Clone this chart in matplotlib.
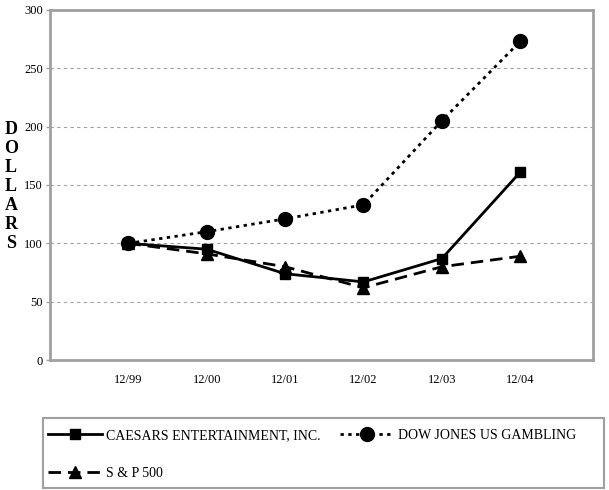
import matplotlib
matplotlib.use('Agg')
import matplotlib.pyplot as plt
from matplotlib.lines import Line2D
from matplotlib.patches import Rectangle

plt.rcParams['font.family'] = ['Liberation Serif', 'DejaVu Serif']

years = ['12/99', '12/00', '12/01', '12/02', '12/03', '12/04']
caesars = [100, 95, 74, 67, 87, 161]
dj_gambling = [100, 110, 121, 133, 205, 273]
sp500 = [100, 91, 80, 62, 80, 89]
y_ticks = [0, 50, 100, 150, 200, 250, 300]

grey = '#a0a0a0'
dotted = (0, (1.2, 1.6))
dashed = (0, (4.5, 2.5))

fig = plt.figure(figsize=(6.09, 4.90), dpi=100)
ax = fig.add_axes([0.082, 0.265, 0.892, 0.715])

x = list(range(len(years)))
ax.plot(x, dj_gambling, color='black', lw=2, ls=dotted, marker='o', ms=10, zorder=3)
ax.plot(x, sp500, color='black', lw=2, ls=dashed, marker='^', ms=8, zorder=3)
ax.plot(x, caesars, color='black', lw=2, ls='-', marker='s', ms=7, zorder=4)

ax.set_xlim(-1.0, 5.93)
ax.set_ylim(0, 300)
ax.set_yticks(y_ticks)
ax.set_yticklabels([str(v) for v in y_ticks], fontsize=9)
ax.set_xticks(x)
ax.set_xticklabels(years, fontsize=9)
ax.tick_params(axis='x', length=0, pad=10)
ax.tick_params(axis='y', length=3, width=1, color=grey, pad=2)
for v in y_ticks[1:-1]:
    ax.axhline(v, color=grey, lw=0.8, ls=(0, (3, 3)), zorder=1)
for s in ax.spines.values():
    s.set_color(grey)
    s.set_linewidth(2)

fig.text(0.018, 0.62, '\n'.join('DOLLARS'), fontsize=13, fontweight='bold',
         ha='center', va='center', linespacing=1.15)

# legend box drawn by hand so it spans the full width
fig.patches.append(Rectangle((0.0706, 0.004), 0.921, 0.143, transform=fig.transFigure,
                             fill=False, edgecolor=grey, lw=1.5))

handles = [
    Line2D([], [], color='black', lw=2, ls='-', marker='s', ms=7),
    Line2D([], [], color='black', lw=2, ls=dashed, marker='^', ms=8),
    Line2D([], [], color='black', lw=2, ls=dotted, marker='o', ms=10),
]
labels = ['CAESARS ENTERTAINMENT, INC.', 'S & P 500', 'DOW JONES US GAMBLING']
fig.legend(handles, labels, loc='upper left', bbox_to_anchor=(0.078, 0.124),
           ncol=2, fontsize=10, frameon=False, borderpad=0, borderaxespad=0,
           handlelength=3.9, handletextpad=0.3, columnspacing=1.4, labelspacing=1.8)

fig.savefig('out.png', dpi=100)
